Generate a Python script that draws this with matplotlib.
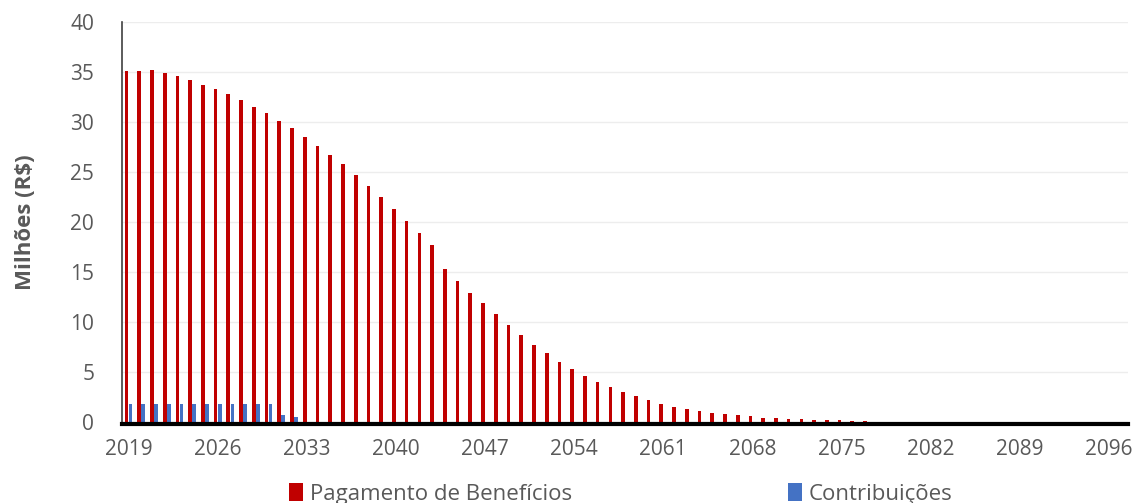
import matplotlib.pyplot as plt
import numpy as np

plt.rcParams['font.family'] = ['Open Sans', 'DejaVu Sans']

anos = np.arange(2019, 2097)

# Pagamento de Beneficios (milhoes R$)
beneficios = [35.1, 35.1, 35.2, 34.9, 34.6, 34.2, 33.7, 33.3, 32.8, 32.2,
              31.5, 30.9, 30.1, 29.4, 28.5, 27.6, 26.7, 25.8, 24.7, 23.6,
              22.5, 21.3, 20.1, 18.9, 17.7, 15.3, 14.1, 12.9, 11.9, 10.8,
              9.7, 8.7, 7.75, 6.9, 6.0, 5.3, 4.6, 4.0, 3.5, 3.0,
              2.6, 2.2, 1.85, 1.55, 1.35, 1.1, 0.95, 0.8, 0.7, 0.57,
              0.45, 0.37, 0.3, 0.27, 0.25, 0.2, 0.17, 0.12, 0.08, 0.05]
beneficios += [0.0] * (len(anos) - len(beneficios))

contribuicoes = [1.8] * 12 + [0.7, 0.5]
contribuicoes += [0.0] * (len(anos) - len(contribuicoes))

ticks = anos[::7]

fig = plt.figure(figsize=(11.37, 5.03), dpi=100)
ax = fig.add_axes([0.1073, 0.161, 0.8848, 0.795])

x = np.arange(len(anos))
w = 0.29
ax.bar(x - 0.15, beneficios, w, color='#C00000', label='Pagamento de Benefícios', zorder=3)
ax.bar(x + 0.17, contribuicoes, w, color='#4472C4', label='Contribuições', zorder=3)

# one empty slot after 2096, like the original axis
ax.set_xlim(-0.5, len(anos) + 0.5)
ax.set_ylim(0, 40)
ax.set_yticks(range(0, 41, 5))
ax.set_xticks(x[::7])
ax.set_xticklabels([str(a) for a in ticks])
ax.tick_params(length=0, labelsize=15, colors='#595959')
ax.tick_params(axis='x', pad=11)
ax.tick_params(axis='y', pad=20)
ax.grid(axis='y', color='#EDEDED', lw=1, zorder=0)
for s in ['top', 'right']:
    ax.spines[s].set_visible(False)
ax.spines['left'].set_color('#404040')
ax.spines['left'].set_linewidth(1.2)
ax.spines['bottom'].set_color('black')
ax.spines['bottom'].set_linewidth(3)
ax.spines['bottom'].set_position(('outward', 1.5))
ax.spines['bottom'].set_zorder(4)
ax.set_ylabel('Milhões (R$)', fontsize=16, fontweight='bold', color='#595959', labelpad=25)

fig.legend(loc='center', bbox_to_anchor=(0.546, 0.018), ncol=2, frameon=False,
           fontsize=16, handlelength=0.65, handleheight=0.85, handletextpad=0.3,
           columnspacing=9.7, labelcolor='#595959')

fig.savefig('out.png', dpi=100)
